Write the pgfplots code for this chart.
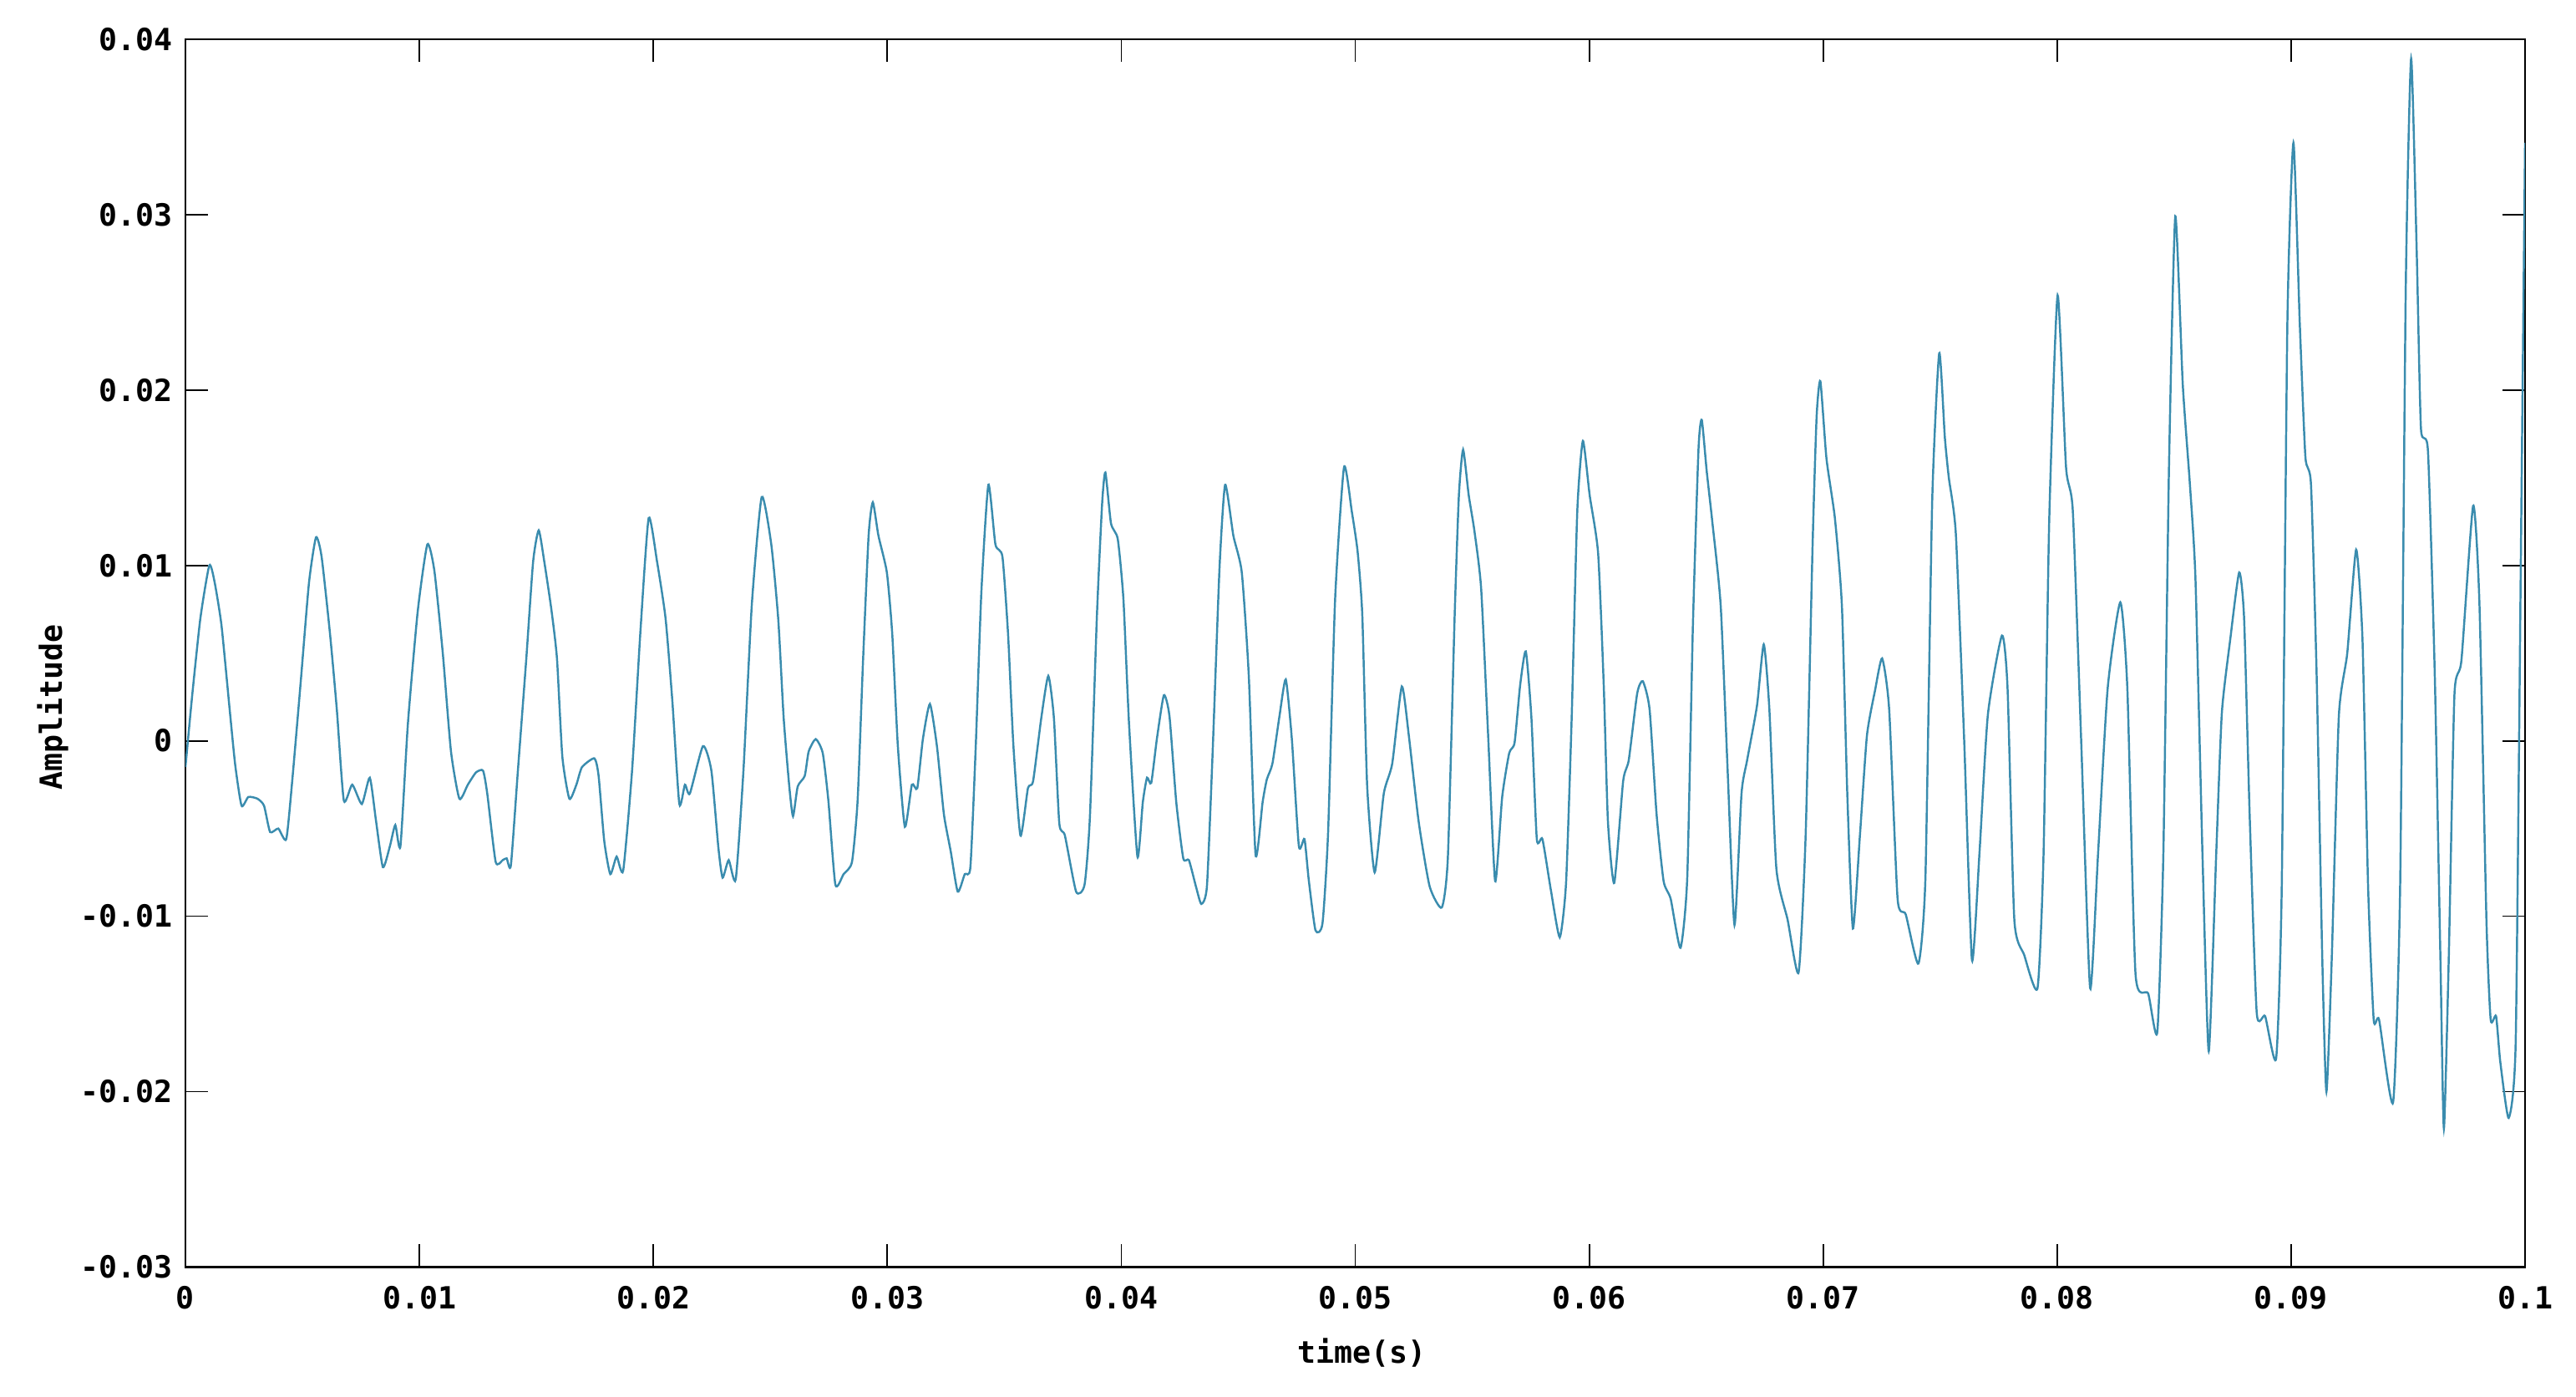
\documentclass[border=0pt]{standalone}
\usepackage{fontspec}
\setmainfont{DejaVu Sans Mono}
\usepackage{pgfplots}
\pgfplotsset{compat=1.18}
\definecolor{wave}{HTML}{3A8CAE}

\begin{document}
\begin{tikzpicture}
\begin{axis}[
  scale only axis,
  width=28.01cm, height=14.695cm,
  xmin=0, xmax=0.1, ymin=-0.03, ymax=0.04,
  scaled x ticks=false, scaled y ticks=false,
  xtick={0,0.01,0.02,0.03,0.04,0.05,0.06,0.07,0.08,0.09,0.1},
  xticklabels={0,0.01,0.02,0.03,0.04,0.05,0.06,0.07,0.08,0.09,0.1},
  ytick={-0.03,-0.02,-0.01,0,0.01,0.02,0.03,0.04},
  yticklabels={-0.03,-0.02,-0.01,0,0.01,0.02,0.03,0.04},
  tick align=inside, major tick length=0.27cm,
  axis line style={line width=0.6pt},
  every tick/.style={black, line width=0.5pt},
  tick label style={font=\fontsize{10.4}{12}\selectfont\bfseries},
  xticklabel style={yshift=-0.1cm},
  yticklabel style={xshift=-0.03cm},
  label style={font=\fontsize{10.4}{12}\selectfont\bfseries},
  xlabel={time(s)}, ylabel={Amplitude},
  xlabel style={at={(axis description cs:0.503,0)}, anchor=center, yshift=-1.025cm},
  ylabel style={at={(axis description cs:-0.0567,0.456)}, anchor=center},
]
\addplot[wave, line width=0.7pt, smooth, tension=0.35] coordinates {
(0,-0.0015) (0.00029,0.0026) (0.00064,0.0070) (0.00102,0.0100) (0.00124,0.0091)
(0.00154,0.0066) (0.00189,0.0018) (0.00213,-0.0014) (0.00240,-0.0037) (0.00269,-0.0032)
(0.00308,-0.0033) (0.00336,-0.0037) (0.00362,-0.0052) (0.00397,-0.0050) (0.00431,-0.0056)
(0.00457,-0.0022) (0.00493,0.0034) (0.00528,0.0090) (0.00558,0.0116) (0.00582,0.0105)
(0.00618,0.0061) (0.00647,0.0018) (0.00677,-0.0034) (0.00713,-0.0025) (0.00754,-0.0036)
(0.00788,-0.0021) (0.00814,-0.0045) (0.00844,-0.0072) (0.00874,-0.0060) (0.00897,-0.0048)
(0.00919,-0.0060) (0.00951,0.0010) (0.00993,0.0074) (0.01034,0.0112) (0.01064,0.0097)
(0.01100,0.0050) (0.01135,-0.0006) (0.01171,-0.0033) (0.01207,-0.0025) (0.01242,-0.0018)
(0.01272,-0.0017) (0.01290,-0.0030) (0.01326,-0.0069) (0.01356,-0.0068) (0.01373,-0.0067)
(0.01391,-0.0071) (0.01421,-0.0017) (0.01457,0.0047) (0.01486,0.0102) (0.01510,0.0120)
(0.01534,0.0102) (0.01564,0.0075) (0.01588,0.0047) (0.01611,-0.0009) (0.01641,-0.0033)
(0.01671,-0.0025) (0.01695,-0.0015) (0.01748,-0.0010) (0.01766,-0.0020) (0.01790,-0.0057)
(0.01816,-0.0076) (0.01843,-0.0066) (0.01871,-0.0074) (0.01909,-0.0017) (0.01945,0.0063)
(0.01980,0.0127) (0.02016,0.0102) (0.02052,0.0070) (0.02081,0.0023) (0.02111,-0.0036)
(0.02135,-0.0025) (0.02156,-0.0030) (0.02212,-0.0003) (0.02248,-0.0017) (0.02278,-0.0061)
(0.02296,-0.0078) (0.02322,-0.0068) (0.02352,-0.0079) (0.02385,-0.0017) (0.02421,0.0078)
(0.02463,0.0139) (0.02504,0.0112) (0.02534,0.0069) (0.02557,0.0013) (0.02581,-0.0026)
(0.02597,-0.0043) (0.02617,-0.0026) (0.02647,-0.0020) (0.02664,-0.0006) (0.02694,0.0001)
(0.02724,-0.0007) (0.02748,-0.0034) (0.02778,-0.0082) (0.02813,-0.0076) (0.02849,-0.0069)
(0.02873,-0.0034) (0.02896,0.0045) (0.02920,0.0117) (0.02938,0.0136) (0.02962,0.0117)
(0.02998,0.0096) (0.03021,0.0061) (0.03045,-0.0003) (0.03075,-0.0049) (0.03105,-0.0025)
(0.03128,-0.0027) (0.03152,0.0001) (0.03182,0.0021) (0.03212,-0.0003) (0.03242,-0.0042)
(0.03271,-0.0063) (0.03301,-0.0086) (0.03331,-0.0076) (0.03355,-0.0072) (0.03378,-0.0003)
(0.03402,0.0085) (0.03432,0.0146) (0.03462,0.0112) (0.03492,0.0105) (0.03516,0.0061)
(0.03539,-0.0003) (0.03569,-0.0054) (0.03601,-0.0027) (0.03623,-0.0023) (0.03658,0.0013)
(0.03688,0.0037) (0.03712,0.0013) (0.03735,-0.0047) (0.03759,-0.0054) (0.03807,-0.0086)
(0.03843,-0.0082) (0.03866,-0.0043) (0.03896,0.0072) (0.03918,0.0135) (0.03932,0.0153)
(0.03956,0.0124) (0.03985,0.0115) (0.04009,0.0081) (0.04033,0.0010) (0.04069,-0.0066)
(0.04092,-0.0035) (0.04110,-0.0021) (0.04128,-0.0024) (0.04152,0.0001) (0.04182,0.0026)
(0.04206,0.0014) (0.04235,-0.0035) (0.04265,-0.0067) (0.04289,-0.0068) (0.04319,-0.0083)
(0.04342,-0.0093) (0.04366,-0.0083) (0.04390,-0.0008) (0.04420,0.0099) (0.04444,0.0146)
(0.04479,0.0117) (0.04515,0.0096) (0.04545,0.0037) (0.04574,-0.0065) (0.04604,-0.0035)
(0.04622,-0.0022) (0.04646,-0.0013) (0.04676,0.0014) (0.04703,0.0035) (0.04729,0.0001)
(0.04759,-0.0060) (0.04783,-0.0056) (0.04801,-0.0079) (0.04830,-0.0108) (0.04860,-0.0104)
(0.04884,-0.0052) (0.04914,0.0081) (0.04952,0.0156) (0.04985,0.0131) (0.05010,0.0108)
(0.05030,0.0072) (0.05051,-0.0026) (0.05083,-0.0075) (0.05122,-0.0030) (0.05158,-0.0013)
(0.05199,0.0031) (0.05229,0.0003) (0.05271,-0.0046) (0.05318,-0.0083) (0.05370,-0.0095)
(0.05396,-0.0066) (0.05425,0.0072) (0.05443,0.0140) (0.05461,0.0166) (0.05485,0.0140)
(0.05509,0.0120) (0.05538,0.0087) (0.05568,0.0003) (0.05598,-0.0080) (0.05628,-0.0032)
(0.05658,-0.0007) (0.05681,-0.0001) (0.05705,0.0032) (0.05729,0.0051) (0.05753,0.0013)
(0.05776,-0.0056) (0.05800,-0.0056) (0.05836,-0.0085) (0.05874,-0.0112) (0.05901,-0.0081)
(0.05925,0.0013) (0.05949,0.0131) (0.05973,0.0171) (0.06002,0.0140) (0.06038,0.0107)
(0.06062,0.0032) (0.06080,-0.0046) (0.06107,-0.0081) (0.06145,-0.0023) (0.06169,-0.0011)
(0.06205,0.0027) (0.06229,0.0034) (0.06258,0.0018) (0.06288,-0.0042) (0.06318,-0.0080)
(0.06348,-0.0090) (0.06390,-0.0118) (0.06419,-0.0078) (0.06443,0.0065) (0.06467,0.0166)
(0.06481,0.0183) (0.06502,0.0154) (0.06526,0.0125) (0.06562,0.0077) (0.06592,-0.0018)
(0.06621,-0.0105) (0.06651,-0.0030) (0.06675,-0.0011) (0.06717,0.0020) (0.06746,0.0055)
(0.06770,0.0018) (0.06800,-0.0073) (0.06848,-0.0102) (0.06895,-0.0132) (0.06925,-0.0054)
(0.06955,0.0113) (0.06972,0.0185) (0.06988,0.0205) (0.07014,0.0161) (0.07050,0.0127)
(0.07080,0.0077) (0.07103,-0.0030) (0.07127,-0.0107) (0.07157,-0.0054) (0.07187,0.0003)
(0.07222,0.0029) (0.07252,0.0047) (0.07282,0.0018) (0.07318,-0.0090) (0.07353,-0.0099)
(0.07407,-0.0127) (0.07437,-0.0078) (0.07466,0.0137) (0.07496,0.0221) (0.07520,0.0173)
(0.07537,0.0150) (0.07567,0.0118) (0.07603,-0.0001) (0.07636,-0.0125) (0.07668,-0.0064)
(0.07704,0.0015) (0.07764,0.0060) (0.07788,0.0030) (0.07817,-0.0102) (0.07859,-0.0122)
(0.07916,-0.0141) (0.07942,-0.0064) (0.07966,0.0125) (0.08002,0.0254) (0.08038,0.0156)
(0.08067,0.0131) (0.08103,-0.0001) (0.08141,-0.0141) (0.08175,-0.0064) (0.08216,0.0030)
(0.08270,0.0079) (0.08300,0.0030) (0.08335,-0.0133) (0.08389,-0.0144) (0.08428,-0.0166)
(0.08454,-0.0064) (0.08478,0.0156) (0.08505,0.0299) (0.08537,0.0203) (0.08567,0.0147)
(0.08591,0.0093) (0.08621,-0.0064) (0.08648,-0.0177) (0.08680,-0.0064) (0.08704,0.0016)
(0.08740,0.0058) (0.08778,0.0096) (0.08799,0.0070) (0.08823,-0.0043) (0.08853,-0.0155)
(0.08889,-0.0157) (0.08936,-0.0181) (0.08960,-0.0083) (0.08984,0.0238) (0.09010,0.0341)
(0.09037,0.0238) (0.09061,0.0162) (0.09085,0.0146) (0.09109,0.0038) (0.09133,-0.0123)
(0.09151,-0.0200) (0.09174,-0.0123) (0.09204,0.0014) (0.09240,0.0050) (0.09278,0.0109)
(0.09305,0.0058) (0.09329,-0.0083) (0.09353,-0.0159) (0.09376,-0.0159) (0.09436,-0.0206)
(0.09466,-0.0083) (0.09490,0.0258) (0.09513,0.0389) (0.09537,0.0278) (0.09555,0.0178)
(0.09585,0.0165) (0.09614,0.0038) (0.09638,-0.0123) (0.09653,-0.0221) (0.09674,-0.0123)
(0.09698,0.0026) (0.09728,0.0046) (0.09778,0.0134) (0.09805,0.0078) (0.09835,-0.0103)
(0.09853,-0.0159) (0.09876,-0.0157) (0.09894,-0.0183) (0.09930,-0.0215) (0.09960,-0.0171)
(0.09983,0.0118) (0.1,0.0341)
};
\end{axis}
\path (current axis.south west) ++(-2.22cm,-1.555cm) coordinate (bl);
\path (current axis.north east) ++(0.61cm,0.47cm) coordinate (tr);
\path (bl) rectangle (tr);
\end{tikzpicture}
\end{document}
